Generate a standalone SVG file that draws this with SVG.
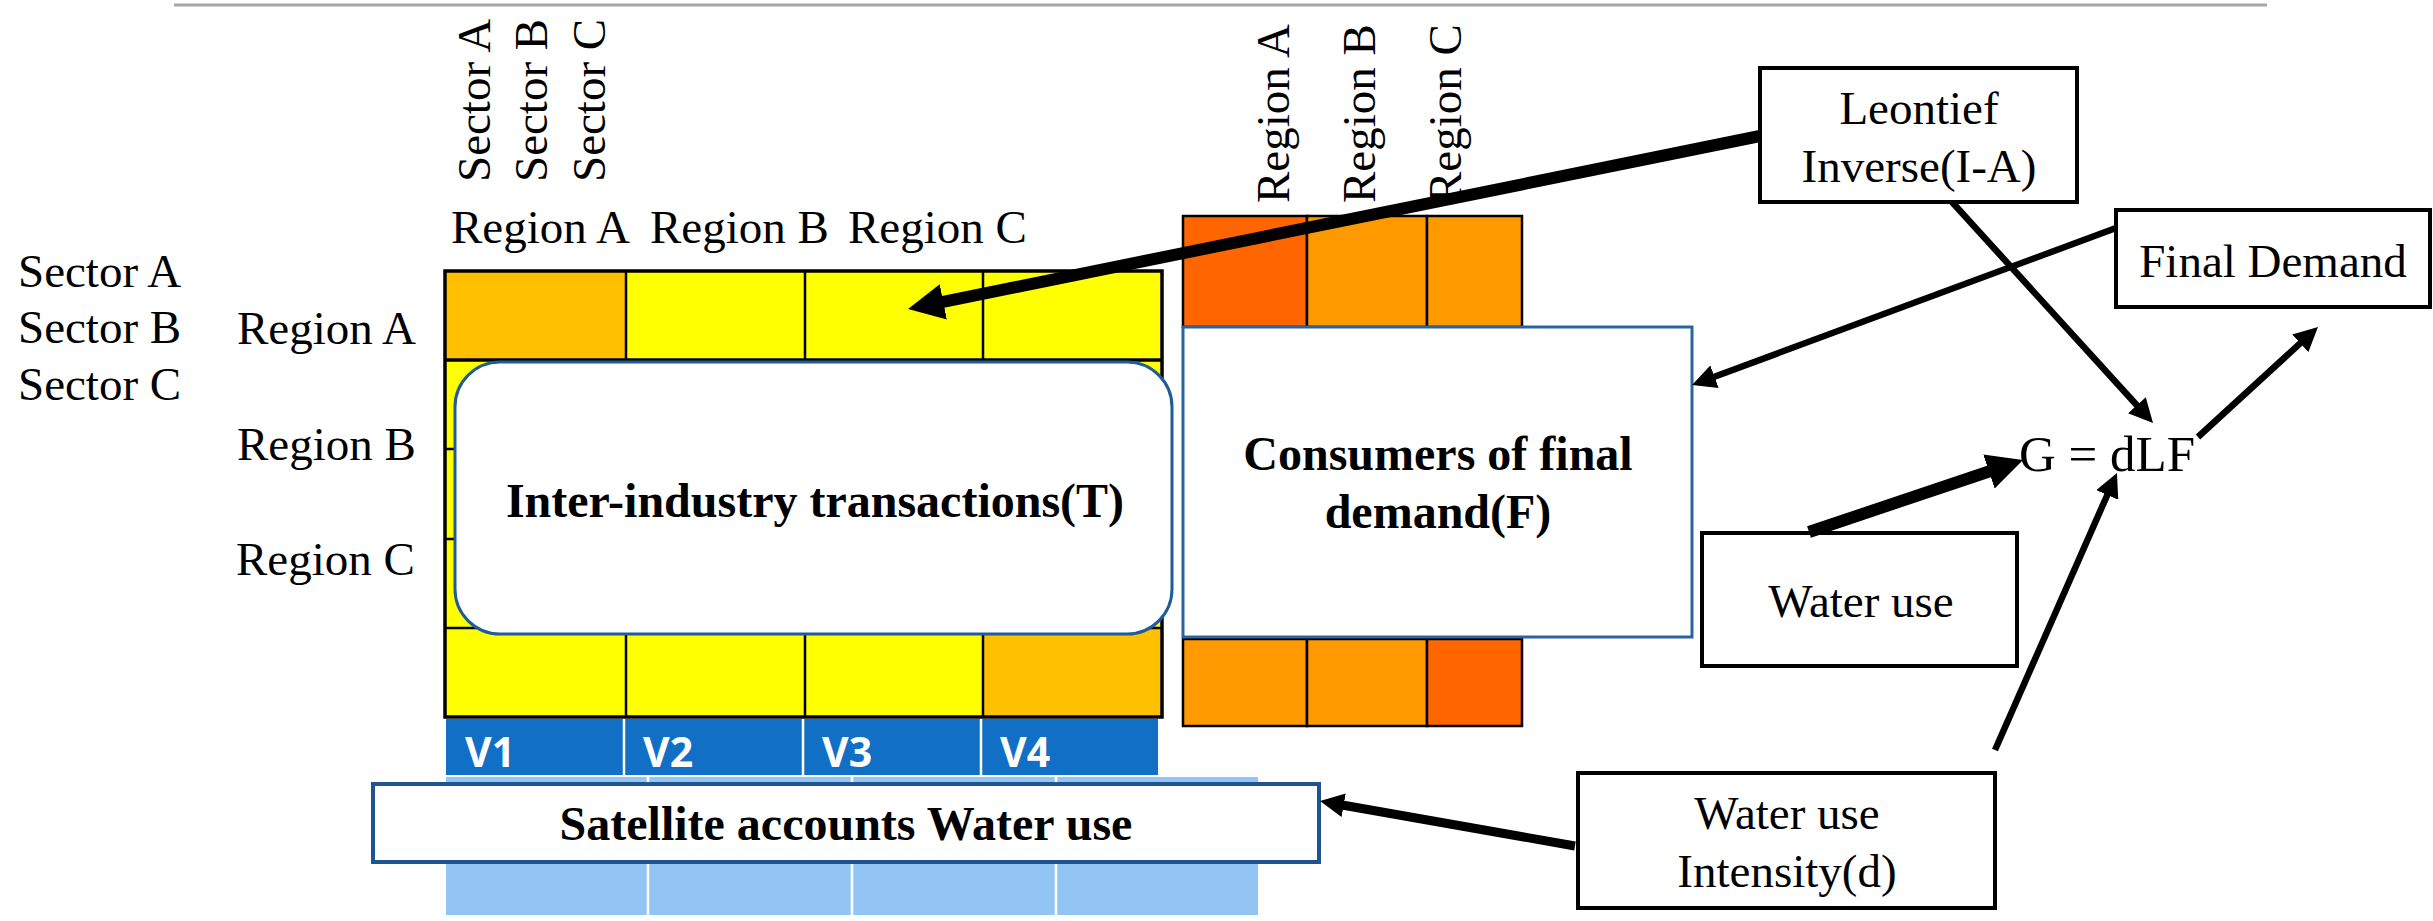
<svg xmlns="http://www.w3.org/2000/svg" width="2433" height="921" viewBox="0 0 2433 921">
<style>
.t{font-family:"Liberation Serif","Times New Roman",serif;font-size:47px;fill:#000}
.b{font-family:"Liberation Serif","Times New Roman",serif;font-size:48px;font-weight:bold;fill:#000}
.v{font-family:"Open Sans","Liberation Sans",sans-serif;font-size:41px;font-weight:bold;fill:#fff}
.c{text-anchor:middle}
.box{fill:#fff;stroke:#000;stroke-width:4}
.cell{stroke:#000;stroke-width:2.5}
.y{fill:#FFFF00}.g{fill:#FFC000}.o{fill:#FF9900}.r{fill:#FF6600}
.con{stroke:#000;fill:none}
.wl{stroke:#fff;stroke-width:2.5}
</style>
<defs>
<marker id="ahBig" markerUnits="userSpaceOnUse" markerWidth="36" markerHeight="36" viewBox="0 0 36 36" refX="4" refY="18" orient="auto"><path d="M0,0 L36,18 L0,36 z" fill="#000"/></marker>
<marker id="ahSmall" markerUnits="userSpaceOnUse" markerWidth="24" markerHeight="24" viewBox="0 0 24 24" refX="3" refY="12" orient="auto"><path d="M0,0 L24,12 L0,24 z" fill="#000"/></marker>
</defs>
<rect width="2433" height="921" fill="#fff"/>
<line x1="174" y1="5" x2="2267" y2="5" stroke="#A6A6A6" stroke-width="3"/>

<g id="labels">
<text class="t" x="18" y="287">Sector A</text>
<text class="t" x="18" y="343">Sector B</text>
<text class="t" x="18" y="400">Sector C</text>
<text class="t" x="237" y="344">Region A</text>
<text class="t" x="237" y="460">Region B</text>
<text class="t" x="236" y="575">Region C</text>
<text class="t" x="451" y="243">Region A</text>
<text class="t" x="650" y="243">Region B</text>
<text class="t" x="848" y="243">Region C</text>
<text class="t" transform="translate(490,182) rotate(-90)">Sector A</text>
<text class="t" transform="translate(547,182) rotate(-90)">Sector B</text>
<text class="t" transform="translate(605,182) rotate(-90)">Sector C</text>
<text class="t" transform="translate(1289,203) rotate(-90)">Region A</text>
<text class="t" transform="translate(1375,203) rotate(-90)">Region B</text>
<text class="t" transform="translate(1461,203) rotate(-90)">Region C</text>
</g>

<g id="matrix">
<rect class="y" x="445" y="271" width="717" height="446"/>
<rect class="g" x="445" y="271" width="181" height="89"/>
<rect class="g" x="983" y="628" width="179" height="89"/>
<line class="cell" x1="445" y1="449" x2="1162" y2="449"/>
<line class="cell" x1="445" y1="539" x2="1162" y2="539"/>
<line class="cell" x1="445" y1="628" x2="1162" y2="628"/>
<line class="cell" x1="626" y1="271" x2="626" y2="717"/>
<line class="cell" x1="805" y1="271" x2="805" y2="717"/>
<line class="cell" x1="983" y1="271" x2="983" y2="717"/>
<line x1="445" y1="360" x2="1162" y2="360" stroke="#000" stroke-width="3.5"/>
<rect x="445" y="271" width="717" height="446" fill="none" stroke="#000" stroke-width="3.5"/>
</g>

<g id="final-demand-cells">
<rect class="cell r" x="1183" y="216" width="124" height="111"/>
<rect class="cell o" x="1307" y="216" width="120" height="111"/>
<rect class="cell o" x="1427" y="216" width="95" height="111"/>
<rect class="cell o" x="1183" y="639" width="124" height="87"/>
<rect class="cell o" x="1307" y="639" width="120" height="87"/>
<rect class="cell r" x="1427" y="639" width="95" height="87"/>
</g>

<g id="value-added">
<rect x="446" y="719" width="712" height="56" fill="#1170C6"/>
<line class="wl" x1="624" y1="719" x2="624" y2="775"/>
<line class="wl" x1="803" y1="719" x2="803" y2="775"/>
<line class="wl" x1="981" y1="719" x2="981" y2="775"/>
<text class="v" x="465" y="767">V1</text>
<text class="v" x="643" y="767">V2</text>
<text class="v" x="822" y="767">V3</text>
<text class="v" x="1000" y="767">V4</text>
</g>

<g id="water-cells">
<rect x="446" y="777" width="812" height="138" fill="#93C5F4"/>
<line class="wl" x1="648" y1="777" x2="648" y2="915"/>
<line class="wl" x1="852" y1="777" x2="852" y2="915"/>
<line class="wl" x1="1056" y1="777" x2="1056" y2="915"/>
</g>

<g id="inter-industry">
<rect x="455" y="362" width="717" height="272" rx="45" ry="45" fill="#fff" stroke="#1F5C99" stroke-width="3"/>
<text class="b c" x="815" y="517">Inter-industry transactions(T)</text>
</g>

<g id="consumers">
<rect x="1183" y="327" width="509" height="310" fill="#fff" stroke="#2A64A0" stroke-width="3"/>
<text class="b c" x="1438" y="470">Consumers of final</text>
<text class="b c" x="1438" y="528">demand(F)</text>
</g>

<g id="satellite">
<rect x="373" y="784" width="946" height="78" fill="#fff" stroke="#1F5493" stroke-width="4"/>
<text class="b c" x="846" y="840">Satellite accounts Water use</text>
</g>

<g id="leontief">
<rect class="box" x="1760" y="68" width="317" height="134"/>
<text class="t c" x="1919" y="124">Leontief</text>
<text class="t c" x="1919" y="182">Inverse(I-A)</text>
</g>

<g id="final-demand">
<rect class="box" x="2116" y="210" width="314" height="97"/>
<text class="t c" x="2273" y="277">Final Demand</text>
</g>

<g id="water-use">
<rect class="box" x="1702" y="533" width="315" height="133"/>
<text class="t c" x="1861" y="617">Water use</text>
</g>

<g id="intensity">
<rect class="box" x="1578" y="773" width="417" height="135"/>
<text class="t c" x="1787" y="829">Water use</text>
<text class="t c" x="1787" y="887">Intensity(d)</text>
</g>

<g id="equation">
<text class="t" x="2019" y="471" style="font-size:51px">G = dLF</text>
</g>

<g id="connectors">
<path class="con" d="M1760,136 L939.4,302.6" stroke-width="12" marker-end="url(#ahBig)"/>
<path class="con" d="M1809,532 L1992.7,470.2" stroke-width="12" marker-end="url(#ahBig)"/>
<path class="con" d="M1952,202 L2138.9,407.5" stroke-width="6.5" marker-end="url(#ahSmall)"/>
<path class="con" d="M2198,437 L2302.5,341.2" stroke-width="6.5" marker-end="url(#ahSmall)"/>
<path class="con" d="M2116,228 L1711.7,377.7" stroke-width="6.5" marker-end="url(#ahSmall)"/>
<path class="con" d="M1995,750 L2108.5,492.2" stroke-width="6.5" marker-end="url(#ahSmall)"/>
<path class="con" d="M1575,846 L1340.7,804.7" stroke-width="9" marker-end="url(#ahSmall)"/>
</g>
</svg>
